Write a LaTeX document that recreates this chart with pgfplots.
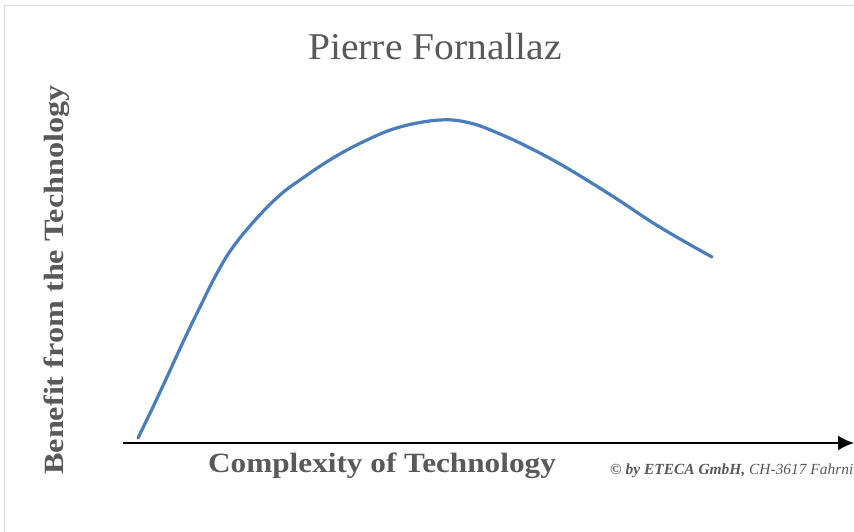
\documentclass[border=0pt]{standalone}
\usepackage{pgfplots}
\pgfplotsset{compat=1.18}
\usepackage{fontspec}
\setmainfont{Liberation Serif}
\usetikzlibrary{arrows.meta}
\definecolor{txt}{HTML}{595959}
\definecolor{brd}{HTML}{D9D9D9}
\definecolor{curve}{HTML}{4A7EBB}
\begin{document}
\begin{tikzpicture}[x=1bp,y=1bp]
\useasboundingbox (0,0) rectangle (854,532);
\begin{axis}[
  at={(0,0)}, anchor=south west,
  scale only axis, width=854bp, height=532bp,
  xmin=0, xmax=854, ymin=0, ymax=532,
  hide axis, clip=true,
]
\draw[brd, line width=1.5bp] (axis cs:4.5,-20) rectangle (axis cs:900,526.5);
\draw[black, line width=2bp, -{Latex[length=16bp,width=15bp]}] (axis cs:123,89) -- (axis cs:854,89);
\addplot[curve, line width=3.2bp, smooth, tension=0.65, line cap=round] coordinates {
(138,94) (153,125) (167,155) (184,192) (200,225) (216,257) (233,285) (257,314) (280,337) (300,352) (333,374)
(367,392) (400,405) (440,412) (470,409) (500,398) (530,384) (560,368) (590,350)
(620,331) (650,311) (680,293) (712,275)
};
\node[txt, anchor=base, font=\fontsize{38}{40}\selectfont] at (axis cs:435,472) {\scalebox{1.045}[1]{Pierre Fornallaz}};
\node[txt, anchor=base, font=\fontsize{28}{30}\selectfont\bfseries] at (axis cs:382,59) {\scalebox{1.12}[1]{Complexity of Technology}};
\node[txt, anchor=base, rotate=90, font=\fontsize{28}{30}\selectfont\bfseries] at (axis cs:63,252) {\scalebox{1.156}[1]{Benefit from the Technology}};
\node[txt, anchor=base west, inner sep=0pt, font=\fontsize{15.5}{17}\selectfont\itshape] at (axis cs:610,57) {\textbf{© by ETECA GmbH,} CH-3617 Fahrni};
\end{axis}
\end{tikzpicture}
\end{document}
